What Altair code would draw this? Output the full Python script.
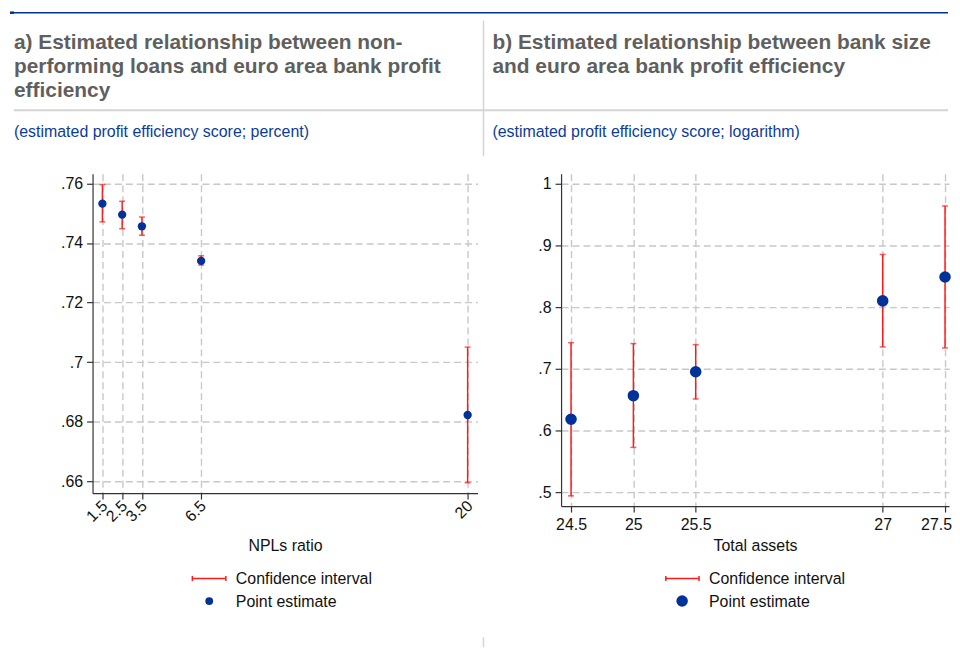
import altair as alt
import pandas as pd

# ---------------- data ----------------
# Panel a: NPL ratio vs estimated profit efficiency
npl_ratio = [1.5, 2.5, 3.5, 6.5, 20]
npl_estimate = [0.7532, 0.7495, 0.7456, 0.7340, 0.6823]
npl_ci_low = [0.7471, 0.7448, 0.7426, 0.7326, 0.6596]
npl_ci_high = [0.7596, 0.7540, 0.7487, 0.7357, 0.7051]
npl_xticks = [1.5, 2.5, 3.5, 6.5, 20]
npl_yticks = [0.66, 0.68, 0.70, 0.72, 0.74, 0.76]

# Panel b: bank size (log total assets) vs estimated profit efficiency
size_assets = [24.5, 25, 25.5, 27, 27.5]
size_estimate = [0.6185, 0.6566, 0.6953, 0.8100, 0.8487]
size_ci_low = [0.4945, 0.5729, 0.6513, 0.7355, 0.7339]
size_ci_high = [0.7424, 0.7409, 0.7392, 0.8852, 0.9636]
size_xticks = [24.5, 25, 25.5, 27, 27.5]
size_yticks = [0.5, 0.6, 0.7, 0.8, 0.9, 1.0]

title_a = ["a) Estimated relationship between non-",
           "performing loans and euro area bank profit",
           "efficiency"]
title_b = ["b) Estimated relationship between bank size",
           "and euro area bank profit efficiency"]
subtitle_a = "(estimated profit efficiency score; percent)"
subtitle_b = "(estimated profit efficiency score; logarithm)"
xtitle_a = "NPLs ratio"
xtitle_b = "Total assets"
legend_labels = ["Confidence interval", "Point estimate"]

# ---------------- style ----------------
FONT = "Liberation Sans"
RED = "#ff1a1a"
BLUE = "#003299"
TEXT = "#111111"
TITLE_GREY = "#5f5f5f"
SUB_BLUE = "#0b3b9e"
LINE_GREY = "#d4d4d4"
one = pd.DataFrame({"k": [0]})

Y_LABEL_EXPR = "replace(format(datum.value, '.2~f'), '0.', '.')"


def panel(x, est, lo, hi, xticks, yticks, xdomain, ydomain, w, h,
          xtitle, xtitle_y, title_lines, subtitle, title_dx, point_size,
          rotate, leg, extra=None):
    df = pd.DataFrame({"x": x, "est": est, "lo": lo, "hi": hi})
    xs = alt.Scale(domain=xdomain, nice=False, zero=False)
    ys = alt.Scale(domain=ydomain, nice=False, zero=False)
    common = dict(domainColor="#333333", domainWidth=1.2, tickColor="#333333",
                  tickWidth=1.2, tickSize=6, labelFont=FONT, labelFontSize=16,
                  labelColor=TEXT, grid=True, gridDash=[7, 4],
                  gridColor="#c8c8c8", gridWidth=1.4, labelOverlap=False)
    if rotate:
        xaxis = alt.Axis(values=xticks, format="~g", title=xtitle,
                         labelAngle=-45, labelAlign="right",
                         labelBaseline="middle", labelPadding=4,
                         labelOffset=2,
                         titleFont=FONT, titleFontSize=16,
                         titleFontWeight="normal", titleColor=TEXT,
                         titleBaseline="alphabetic", titleY=xtitle_y,
                         **common)
    else:
        xaxis = alt.Axis(values=xticks, format="~g", title=xtitle,
                         labelAngle=0, labelAlign="center",
                         labelBaseline="alphabetic", labelPadding=17.5,
                         labelOffset=alt.condition("datum.value >= 27.5",
                                                   alt.value(-9),
                                                   alt.value(0)),
                         titleFont=FONT, titleFontSize=16,
                         titleFontWeight="normal", titleColor=TEXT,
                         titleBaseline="alphabetic", titleY=xtitle_y,
                         **common)
    yaxis = alt.Axis(values=yticks, title=None, labelExpr=Y_LABEL_EXPR,
                     labelPadding=4, labelBaseline="middle", **common)

    def X():
        return alt.X("x:Q", scale=xs, axis=xaxis)

    def Y(f):
        return alt.Y(f + ":Q", scale=ys, axis=yaxis)

    base = alt.Chart(df)
    rule = base.mark_rule(color=RED, strokeWidth=1.5).encode(
        x=X(), y=Y("lo"), y2="hi:Q")
    cap_lo = base.mark_tick(color=RED, orient="horizontal", size=6,
                            thickness=1.5).encode(x=X(), y=Y("lo"))
    cap_hi = base.mark_tick(color=RED, orient="horizontal", size=6,
                            thickness=1.5).encode(x=X(), y=Y("hi"))
    pts = base.mark_circle(color=BLUE, size=point_size, opacity=1).encode(
        x=X(), y=Y("est"))

    deco = alt.Chart(one)
    ttl = deco.mark_text(align="left", baseline="alphabetic", font=FONT,
                         fontSize=21, fontWeight="bold", color=TITLE_GREY,
                         lineHeight=24).encode(
        x=alt.value(title_dx), y=alt.value(-125), text=alt.value(title_lines))
    sub = deco.mark_text(align="left", baseline="alphabetic", font=FONT,
                         fontSize=16, color=SUB_BLUE).encode(
        x=alt.value(title_dx), y=alt.value(-37), text=alt.value(subtitle))

    # legend (drawn below the panel)
    sx0, sx1, dotx, tx, dsize = leg
    leg_line = deco.mark_rule(color=RED, strokeWidth=1.5).encode(
        x=alt.value(sx0), x2=alt.value(sx1), y=alt.value(406.7))
    leg_c0 = deco.mark_rule(color=RED, strokeWidth=1.5).encode(
        x=alt.value(sx0), y=alt.value(404.2), y2=alt.value(409.4))
    leg_c1 = deco.mark_rule(color=RED, strokeWidth=1.5).encode(
        x=alt.value(sx1), y=alt.value(404.2), y2=alt.value(409.4))
    leg_dot = deco.mark_circle(color=BLUE, size=dsize, opacity=1).encode(
        x=alt.value(dotx), y=alt.value(429.5))
    leg_t1 = deco.mark_text(align="left", baseline="alphabetic", font=FONT,
                            fontSize=16, color=TEXT).encode(
        x=alt.value(tx), y=alt.value(412.7), text=alt.value(legend_labels[0]))
    leg_t2 = deco.mark_text(align="left", baseline="alphabetic", font=FONT,
                            fontSize=16, color=TEXT).encode(
        x=alt.value(tx), y=alt.value(435), text=alt.value(legend_labels[1]))

    layers = [rule, cap_lo, cap_hi, pts, ttl, sub,
              leg_line, leg_c0, leg_c1, leg_dot, leg_t1, leg_t2]
    if extra:
        layers = extra + layers
    return alt.layer(*layers).properties(width=w, height=h)


# page-wide decorations (drawn in panel a's coordinate frame)
deco = alt.Chart(one)
top_line = deco.mark_rule(color=BLUE, strokeWidth=1.5).encode(
    x=alt.value(-83), x2=alt.value(860), y=alt.value(-162))
top_tab = deco.mark_rule(color=BLUE, strokeWidth=2.5).encode(
    x=alt.value(-83), x2=alt.value(-79), y=alt.value(-162))
grey_line = deco.mark_rule(color=LINE_GREY, strokeWidth=2).encode(
    x=alt.value(-79), x2=alt.value(860), y=alt.value(-64))
sep_top = deco.mark_rule(color=LINE_GREY, strokeWidth=1.5).encode(
    x=alt.value(393), y=alt.value(-154), y2=alt.value(-18))
sep_bot = deco.mark_rule(color=LINE_GREY, strokeWidth=1.5).encode(
    x=alt.value(393), y=alt.value(466), y2=alt.value(476))

chart_a = panel(npl_ratio, npl_estimate, npl_ci_low, npl_ci_high,
                npl_xticks, npl_yticks, [1.0, 20.5], [0.6561, 0.7632],
                387, 321, xtitle_a, 58, title_a, subtitle_a, -79, 70, True,
                (100.3, 134.0, 117.3, 144.0, 62),
                extra=[top_line, top_tab, grey_line, sep_top, sep_bot])

chart_b = panel(size_assets, size_estimate, size_ci_low, size_ci_high,
                size_xticks, size_yticks, [24.42, 27.532], [0.478, 1.0156],
                390, 334, xtitle_b, 45, title_b, subtitle_b, -69, 135, False,
                (105.3, 138.7, 121.7, 148.7, 133))

chart = alt.hconcat(chart_a, chart_b, spacing=84, bounds="flush").properties(
    padding={"left": 0, "top": 1, "right": 0, "bottom": 0}
).configure_view(stroke=None)

chart.save("out.html", embed_options={"renderer": "svg", "actions": False})
